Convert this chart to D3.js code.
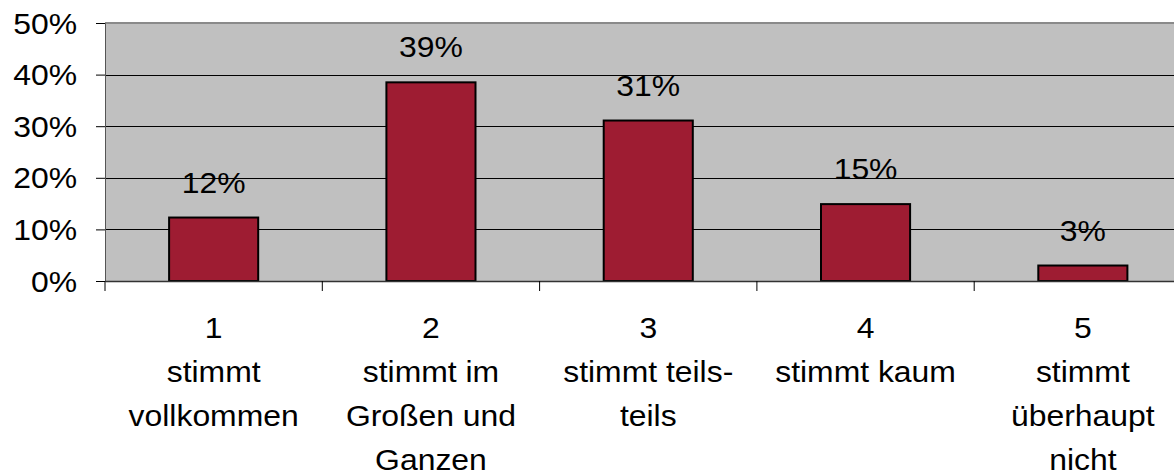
<!DOCTYPE html>
<html>
<head>
<meta charset="utf-8">
<script src="https://cdn.jsdelivr.net/npm/d3@7"></script>
<style>
  html, body { margin: 0; padding: 0; background: #ffffff; }
  svg { display: block; }
  text { font-family: "Liberation Sans", Arial, sans-serif; fill: #000; }
</style>
</head>
<body>
<svg id="chart" width="1174" height="473"></svg>
<script>
const categories = ["1", "2", "3", "4", "5"];
const categoryLines = [
  ["1", "stimmt", "vollkommen"],
  ["2", "stimmt im", "Großen und", "Ganzen"],
  ["3", "stimmt teils-", "teils"],
  ["4", "stimmt kaum"],
  ["5", "stimmt", "überhaupt", "nicht"]
];
const values = [12.3, 38.5, 31.1, 14.9, 3.0];
const valueLabels = ["12%", "39%", "31%", "15%", "3%"];
const yTicks = [0, 10, 20, 30, 40, 50];

(function () {
const svg = d3.select("#chart");
const pLeft = 105, pTop = 23, pBottom = 281, pRight = 1191.5;
const fs = 29, sx = 1.1;

const x = d3.scaleBand().domain(categories).range([pLeft, pRight]).paddingInner(0.59).paddingOuter(0.295);
const xb = d3.scaleBand().domain(categories).range([pLeft, pRight]);
const y = d3.scaleLinear().domain([0, 50]).range([pBottom, pTop]);

svg.append("rect").attr("x", pLeft).attr("y", pTop).attr("width", pRight - pLeft).attr("height", pBottom - pTop).attr("fill", "#c0c0c0");

svg.append("g").selectAll("line").data(yTicks.filter(d => d > 0 && d < 50)).join("line")
  .attr("x1", pLeft).attr("x2", pRight)
  .attr("y1", d => Math.round(y(d)) + 0.5).attr("y2", d => Math.round(y(d)) + 0.5)
  .attr("stroke", "#000").attr("stroke-width", 1);

svg.append("line").attr("x1", pLeft).attr("x2", pRight).attr("y1", pTop).attr("y2", pTop)
  .attr("stroke", "#8a8a8a").attr("stroke-width", 2);

svg.append("g").selectAll("rect").data(values).join("rect")
  .attr("x", (d, i) => x(categories[i]))
  .attr("width", x.bandwidth())
  .attr("y", d => y(d))
  .attr("height", d => pBottom - y(d))
  .attr("fill", "#9e1c32").attr("stroke", "#000").attr("stroke-width", 2);

svg.append("g").selectAll("text").data(values).join("text")
  .attr("transform", (d, i) => `translate(${xb(categories[i]) + xb.bandwidth() / 2},${y(d) - 25}) scale(${sx},1)`)
  .attr("text-anchor", "middle").attr("font-size", fs)
  .text((d, i) => valueLabels[i]);

const yAxis = svg.append("g").attr("transform", `translate(${pLeft},0)`)
  .call(d3.axisLeft(y).tickValues(yTicks).tickSize(9).tickPadding(0).tickFormat(d => d + "%"));
yAxis.select(".domain").attr("stroke", "#555").attr("stroke-width", 1);
yAxis.selectAll(".tick line").attr("stroke", "#000");
yAxis.selectAll(".tick text").remove();
yAxis.selectAll(".tick").append("text")
  .attr("transform", `translate(-28,10) scale(${sx},1)`)
  .attr("text-anchor", "end").attr("font-size", fs)
  .text(d => d + "%");

const xAxis = svg.append("g").attr("transform", `translate(0,${pBottom})`)
  .call(d3.axisBottom(xb).tickSize(0).tickFormat(""));
xAxis.select(".domain").attr("stroke", "#333").attr("stroke-width", 1.5);
xAxis.selectAll(".tick").remove();
const boundaries = categories.map(c => xb(c));
xAxis.append("g").selectAll("line").data(boundaries).join("line")
  .attr("x1", d => d).attr("x2", d => d).attr("y1", 0).attr("y2", 10)
  .attr("stroke", "#000").attr("stroke-width", 1);

const cl = svg.append("g").selectAll("text").data(categoryLines).join("text")
  .attr("transform", (d, i) => `translate(${xb(categories[i]) + xb.bandwidth() / 2},338) scale(${sx},1)`)
  .attr("text-anchor", "middle").attr("font-size", fs);
cl.selectAll("tspan").data(d => d).join("tspan")
  .attr("x", 0).attr("y", (d, i) => i * 44)
  .text(d => d);
})();
</script>
</body>
</html>
